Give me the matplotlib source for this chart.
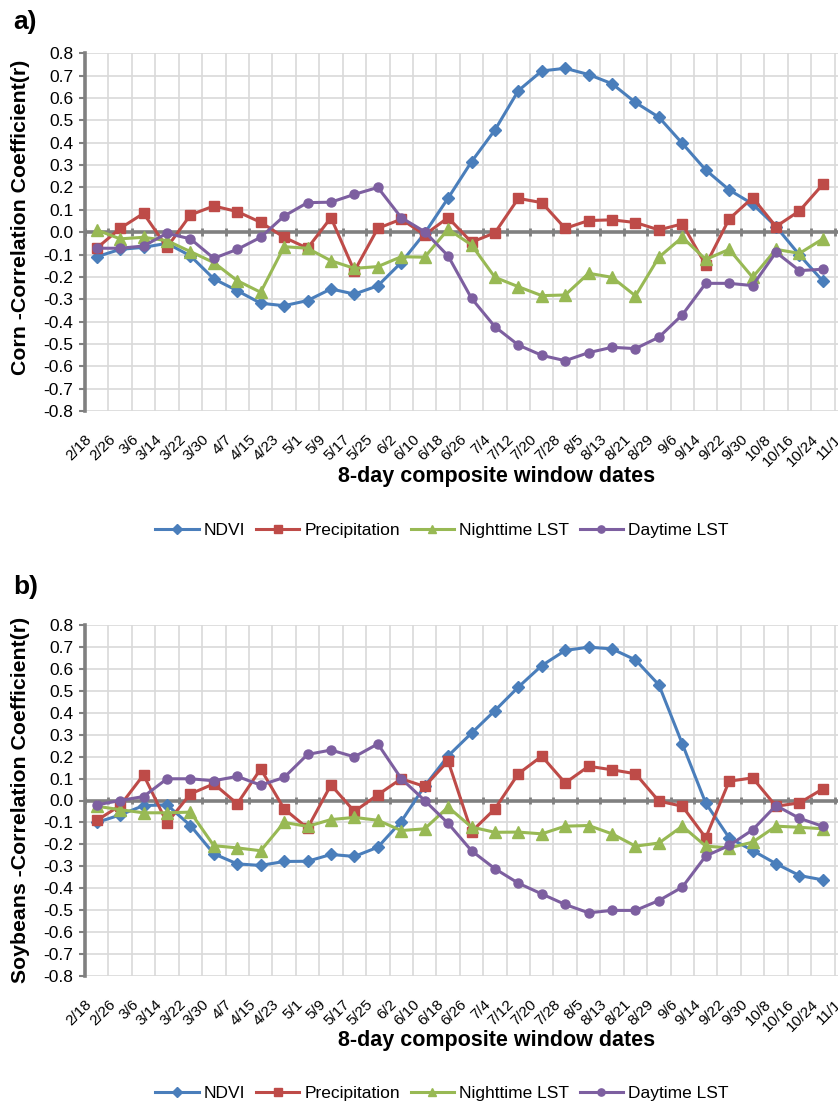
import numpy as np
import matplotlib
matplotlib.use('Agg')
import matplotlib.pyplot as plt
import matplotlib.transforms as mtransforms

plt.rcParams['font.family'] = 'Liberation Sans'

# 8-day composite window start dates (the last one is cut off at the right edge)
dates = ['2/18', '2/26', '3/6', '3/14', '3/22', '3/30', '4/7', '4/15', '4/23',
         '5/1', '5/9', '5/17', '5/25', '6/2', '6/10', '6/18', '6/26', '7/4',
         '7/12', '7/20', '7/28', '8/5', '8/13', '8/21', '8/29', '9/6', '9/14',
         '9/22', '9/30', '10/8', '10/16', '10/24', '11/1']

# a) corn
ndvi_corn = [-0.11, -0.077, -0.068, -0.05, -0.106, -0.209, -0.262, -0.318, -0.329,
             -0.306, -0.254, -0.277, -0.24, -0.136, -0.005, 0.152, 0.315, 0.457,
             0.633, 0.721, 0.733, 0.705, 0.664, 0.58, 0.514, 0.397, 0.278, 0.189,
             0.126, 0.025, -0.102, -0.219]
precip_corn = [-0.072, 0.017, 0.084, -0.068, 0.077, 0.117, 0.092, 0.044, -0.023,
               -0.072, 0.065, -0.174, 0.017, 0.058, -0.012, 0.065, -0.045, -0.003,
               0.151, 0.132, 0.017, 0.052, 0.055, 0.043, 0.01, 0.037, -0.147, 0.059,
               0.154, 0.025, 0.095, 0.214]
night_corn = [0.01, -0.03, -0.023, -0.038, -0.087, -0.136, -0.217, -0.269, -0.065,
              -0.072, -0.128, -0.162, -0.154, -0.11, -0.112, 0.013, -0.057, -0.202,
              -0.244, -0.284, -0.281, -0.184, -0.202, -0.285, -0.112, -0.023, -0.122,
              -0.077, -0.202, -0.077, -0.095, -0.03]
day_corn = [-0.072, -0.072, -0.062, -0.005, -0.03, -0.117, -0.077, -0.023, 0.072,
            0.132, 0.134, 0.169, 0.2, 0.065, 0.002, -0.106, -0.296, -0.423, -0.505,
            -0.551, -0.575, -0.539, -0.515, -0.521, -0.47, -0.37, -0.229, -0.229,
            -0.239, -0.09, -0.172, -0.166]

# b) soybeans
ndvi_soy = [-0.1, -0.066, -0.023, -0.02, -0.114, -0.243, -0.289, -0.296, -0.278,
            -0.277, -0.246, -0.255, -0.213, -0.096, 0.066, 0.203, 0.307, 0.41,
            0.517, 0.615, 0.684, 0.699, 0.691, 0.641, 0.527, 0.258, -0.012, -0.17,
            -0.228, -0.288, -0.342, -0.362]
precip_soy = [-0.091, -0.023, 0.117, -0.102, 0.03, 0.076, -0.015, 0.144, -0.038,
              -0.126, 0.071, -0.05, 0.026, 0.099, 0.064, 0.18, -0.142, -0.038, 0.122,
              0.202, 0.08, 0.156, 0.14, 0.122, -0.003, -0.026, -0.17, 0.088, 0.103,
              -0.026, -0.011, 0.053]
night_soy = [-0.026, -0.042, -0.056, -0.056, -0.053, -0.206, -0.216, -0.229, -0.1,
             -0.118, -0.087, -0.077, -0.09, -0.137, -0.129, -0.03, -0.121, -0.145,
             -0.144, -0.152, -0.117, -0.114, -0.152, -0.208, -0.194, -0.117, -0.208,
             -0.216, -0.19, -0.117, -0.122, -0.129]
day_soy = [-0.02, 0.0, 0.018, 0.099, 0.099, 0.09, 0.11, 0.07, 0.105, 0.21, 0.23,
           0.199, 0.258, 0.1, 0.0, -0.104, -0.229, -0.311, -0.377, -0.426, -0.474,
           -0.512, -0.501, -0.501, -0.456, -0.395, -0.253, -0.205, -0.134, -0.023,
           -0.081, -0.118]

names = ['NDVI', 'Precipitation', 'Nighttime LST', 'Daytime LST']
colors = ['#4A7EBB', '#BE4B48', '#98B954', '#7D5FA0']
markers = ['D', 's', '^', 'o']
msizes = [6.5, 6.5, 8, 6.5]
axis_gray = '#808080'

fig = plt.figure(figsize=(8.38, 11.04), dpi=100)


def draw_panel(ax, series, ylabel, ylab_pos, tag, tag_y, legend_y):
    n = len(dates)
    for vals, name, c, m, ms in zip(series, names, colors, markers, msizes):
        ax.plot(np.arange(len(vals)), vals, color=c, marker=m, ms=ms, lw=2.2,
                label=name, zorder=3)

    ax.set_xlim(-0.5, n - 0.5)
    ax.set_ylim(-0.8, 0.8)
    yt = np.round(np.arange(-0.8, 0.81, 0.1), 1)
    ax.set_yticks(yt)
    ax.set_yticklabels(['%.1f' % abs(v) if v == 0 else '%.1f' % v for v in yt])

    # category boundaries for the vertical grid
    bounds = np.arange(n + 1) - 0.5
    ax.set_xticks(bounds, minor=True)
    ax.grid(which='minor', axis='x', color='#d9d9d9', lw=1.2)
    ax.grid(which='major', axis='y', color='#d9d9d9', lw=1.2)
    ax.grid(which='major', axis='x', visible=False)
    ax.set_axisbelow(True)

    # horizontal axis drawn through zero, with cross ticks
    ax.axhline(0, color=axis_gray, lw=2.6, zorder=2)
    ax.vlines(bounds, -0.018, 0.018, color=axis_gray, lw=2, zorder=2)

    for s in ['top', 'right', 'bottom']:
        ax.spines[s].set_visible(False)
    ax.spines['left'].set_color(axis_gray)
    ax.spines['left'].set_linewidth(2.6)
    ax.tick_params(axis='y', length=4.5, width=1.5, color=axis_gray,
                   labelsize=12.5, pad=4)
    ax.tick_params(axis='x', which='both', length=0, pad=15)

    # date labels, slanted, shifted left like the spreadsheet layout
    ax.set_xticks(np.arange(n))
    ax.set_xticklabels(dates, rotation=45, ha='right', va='top',
                       rotation_mode='anchor', fontsize=11)
    offset = mtransforms.ScaledTranslation(-0.12, 0, fig.dpi_scale_trans)
    for lab in ax.get_xticklabels():
        lab.set_transform(lab.get_transform() + offset)

    ax.text(-0.084, ylab_pos, ylabel, transform=ax.transAxes, rotation=90,
            ha='center', va='center', fontsize=15.3, fontweight='bold')
    ax.text(0.532, -0.184, '8-day composite window dates', transform=ax.transAxes,
            ha='center', va='center', fontsize=15.5, fontweight='bold')
    fig.text(13 / 838, tag_y, tag, fontsize=19, fontweight='bold',
             ha='left', va='center')

    h, l = ax.get_legend_handles_labels()
    fig.legend(h, l, loc='center', bbox_to_anchor=(442 / 838, legend_y), ncol=4,
               frameon=False, fontsize=12.5, handlelength=2.5, handletextpad=0.3,
               columnspacing=0.6, markerscale=0.8)


ax_a = fig.add_axes([85 / 838, 1 - 411 / 1104, 773 / 838, 357.7 / 1104])
ax_b = fig.add_axes([85 / 838, 1 - 976 / 1104, 773 / 838, 351 / 1104])

draw_panel(ax_a, [ndvi_corn, precip_corn, night_corn, day_corn],
           'Corn -Correlation Coefficient(r)', 0.54, 'a)', 1 - 22 / 1104,
           1 - 530 / 1104)
draw_panel(ax_b, [ndvi_soy, precip_soy, night_soy, day_soy],
           'Soybeans -Correlation Coefficient(r)', 0.501, 'b)', 1 - 587 / 1104,
           1 - 1093 / 1104)

fig.savefig('out.png', dpi=100)
